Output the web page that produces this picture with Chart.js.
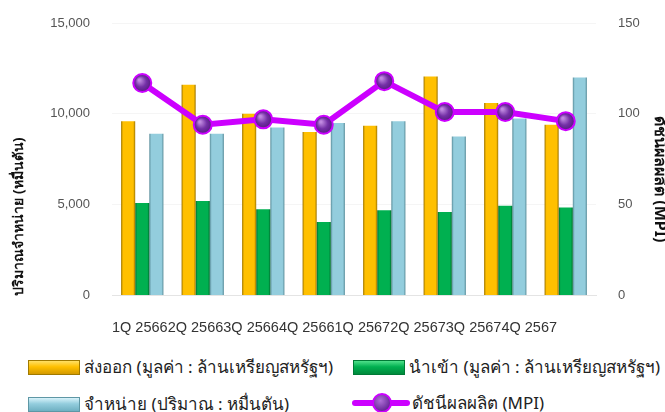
<!DOCTYPE html>
<html>
<head>
<meta charset="utf-8">
<script src="https://cdn.jsdelivr.net/npm/chart.js@4"></script>
<style>
  body { margin: 0; background: #fff; overflow: hidden; }
  #wrap { width: 665px; height: 412px; position: relative; overflow: hidden; }
  #box { width: 665px; height: 340px; position: relative; }
  #legend {
    position: absolute; left: 0; top: 340px; width: 665px; height: 72px;
    font-family: Tahoma, "Noto Sans", sans-serif; font-size: 17px; line-height: 22px; color: #222;
  }
  .item { position: absolute; height: 22px; display: flex; align-items: center; white-space: nowrap; }
  .sw { width: 52px; height: 15px; margin-right: 4px; box-sizing: border-box; }
  .ln { width: 58px; height: 20px; margin-right: 2px; position: relative; }
  .ln:before { content: ''; position: absolute; left: 0; right: 0; top: 7px; height: 6px; background: #cc00ff; border-radius: 3px; }
  .ln:after { content: ''; position: absolute; left: 20px; top: 0; width: 16px; height: 16px; border-radius: 50%;
    background: radial-gradient(circle at 40% 35%, #b070d8, #6a2a9a 70%); border: 2px solid #cc00ff; }
</style>
</head>
<body>
<div id="wrap">
  <div id="box"><canvas id="grafico"></canvas></div>
  <div id="legend"></div>
</div>
<script>
const categorias = ['1Q 2566', '2Q 2566', '3Q 2566', '4Q 2566', '1Q 2567', '2Q 2567', '3Q 2567', '4Q 2567'];
const exportValores = [9600, 11600, 10000, 9000, 9350, 12050, 10600, 9400];
const importValores = [5100, 5200, 4750, 4050, 4700, 4600, 4950, 4850];
const vendaValores = [8900, 8900, 9250, 9500, 9600, 8750, 9750, 12000];
const mpiValores = [117, 94, 97, 94, 118, 101, 101, 96];
const ticksEsquerda = [0, 5000, 10000, 15000];
const ticksDireita = [0, 50, 100, 150];

const nomes = [
    'ส่งออก (มูลค่า : ล้านเหรียญสหรัฐฯ)',
    'นำเข้า (มูลค่า : ล้านเหรียญสหรัฐฯ)',
    'จำหน่าย (ปริมาณ : หมื่นตัน)',
    'ดัชนีผลผลิต (MPI)'
];
const tituloEsquerda = 'ปริมาณจำหน่าย (หมื่นตัน)';

const fonteNum = '"Liberation Sans", Arial, sans-serif';
const fonteThai = 'Tahoma, "Noto Sans", sans-serif';

// gradiente horizontal em cada barra (efeito chanfrado)
function corBarra(cor, escura, indice) {
    return function(context) {
        const chart = context.chart;
        const x = chart.scales.x;
        if (!chart.chartArea || !x || context.type !== 'data') return cor;
        const centro = x.getPixelForValue(context.dataIndex);
        const largura = (x.width / categorias.length) * 0.7 / 3;
        const esq = centro - 1.5 * largura + indice * largura;
        const g = chart.ctx.createLinearGradient(esq, 0, esq + largura, 0);
        g.addColorStop(0, escura);
        g.addColorStop(0.14, cor);
        g.addColorStop(0.86, cor);
        g.addColorStop(1, escura);
        return g;
    };
}

function barra(label, data, cor, escura, indice) {
    return {
        type: 'bar', label: label, data: data, yAxisID: 'y',
        backgroundColor: corBarra(cor, escura, indice), borderWidth: 0,
        categoryPercentage: 0.7, barPercentage: 1.0, order: 1
    };
}

function corPonto(context) {
    const chart = context.chart;
    if (!chart.chartArea || context.type !== 'data') return '#7430a6';
    const px = chart.scales.x.getPixelForValue(context.dataIndex);
    const py = chart.scales.y1.getPixelForValue(context.raw);
    const g = chart.ctx.createRadialGradient(px - 3, py - 3, 1, px, py, 9);
    g.addColorStop(0, '#c08ae0');
    g.addColorStop(0.55, '#7430a6');
    g.addColorStop(1, '#551c80');
    return g;
}

// titulo do eixo direito, um pouco abaixo do centro como no original
const tituloDireita = {
    id: 'tituloDireita',
    afterDraw(chart) {
        const s = chart.scales.y1;
        const c = chart.ctx;
        c.save();
        c.translate(s.right - 5, (s.top + s.bottom) / 2 + 20);
        c.rotate(Math.PI / 2);
        c.font = 'bold 16px ' + fonteThai;
        c.fillStyle = '#111';
        c.textAlign = 'center';
        c.textBaseline = 'middle';
        c.fillText(nomes[3], 0, 0);
        c.restore();
    }
};

function ajustarEixo(largura) {
    return s => {
        s.width = largura;
        s.paddingTop = 8;
        s.paddingBottom = 8;
    };
}

const ctx = document.getElementById('grafico');
new Chart(ctx, {
    data: {
        labels: categorias,
        datasets: [
            barra(nomes[0], exportValores, '#ffc000', '#9c7300', 0),
            barra(nomes[1], importValores, '#00b050', '#006b2e', 1),
            barra(nomes[2], vendaValores, '#93cddd', '#5a8d9a', 2),
            {
                type: 'line', label: nomes[3], data: mpiValores, yAxisID: 'y1',
                borderColor: '#cc00ff', borderWidth: 6,
                pointRadius: 9, pointBorderWidth: 2,
                pointBackgroundColor: corPonto, pointBorderColor: '#cc00ff',
                order: 0
            }
        ]
    },
    options: {
        responsive: true,
        maintainAspectRatio: false,
        animation: false,
        layout: { padding: { top: 23, left: 11, right: 0, bottom: 1 } },
        plugins: { legend: { display: false }, tooltip: { enabled: false } },
        scales: {
            x: {
                grid: { display: false, drawTicks: false },
                border: { color: '#e4e4e4' },
                ticks: { display: false },
                title: {
                    display: true, text: categorias.join(''), align: 'start',
                    color: '#333', font: { family: fonteNum, size: 14.5 },
                    padding: { top: 24, bottom: 2 }
                }
            },
            y: {
                position: 'left', min: 0, max: 15000,
                afterBuildTicks: s => { s.ticks = ticksEsquerda.map(v => ({ value: v })); },
                afterFit: ajustarEixo(101),
                grid: { color: '#f5f5f5', drawTicks: false },
                border: { display: false },
                ticks: {
                    padding: 22, color: '#555', font: { family: fonteNum, size: 13 },
                    callback: v => v.toLocaleString('en-US')
                },
                title: {
                    display: true, text: tituloEsquerda, align: 'start',
                    color: '#111', font: { family: fonteThai, size: 14, weight: 'bold' },
                    padding: 0
                }
            },
            y1: {
                position: 'right', min: 0, max: 150,
                afterBuildTicks: s => { s.ticks = ticksDireita.map(v => ({ value: v })); },
                afterFit: ajustarEixo(69),
                grid: { display: false, drawTicks: false },
                border: { display: false },
                ticks: { padding: 22, color: '#555', font: { family: fonteNum, size: 13 } }
            }
        }
    },
    plugins: [tituloDireita]
});

// legenda em duas colunas
const legenda = document.getElementById('legend');
const posicoes = [[28, 16], [353, 16], [28, 53], [352, 52]];
const estilos = [
    'background: linear-gradient(#ffe066, #ffc000 45%, #d49a00); border: 1px solid #a07a00;',
    'background: linear-gradient(#4fe08a, #00b050 45%, #008a3c); border: 1px solid #007a36;',
    'background: linear-gradient(#d8f2fa, #93cddd 45%, #6fb0c2); border: 1px solid #5e97a5;'
];
nomes.forEach((nome, i) => {
    let div = document.createElement('div');
    div.className = 'item';
    div.style.left = posicoes[i][0] + 'px';
    div.style.top = posicoes[i][1] + 'px';
    let simbolo = i < 3 ? `<span class="sw" style="${estilos[i]}"></span>` : '<span class="ln"></span>';
    div.innerHTML = simbolo + '<span>' + nome + '</span>';
    legenda.appendChild(div);
});
</script>
</body>
</html>
